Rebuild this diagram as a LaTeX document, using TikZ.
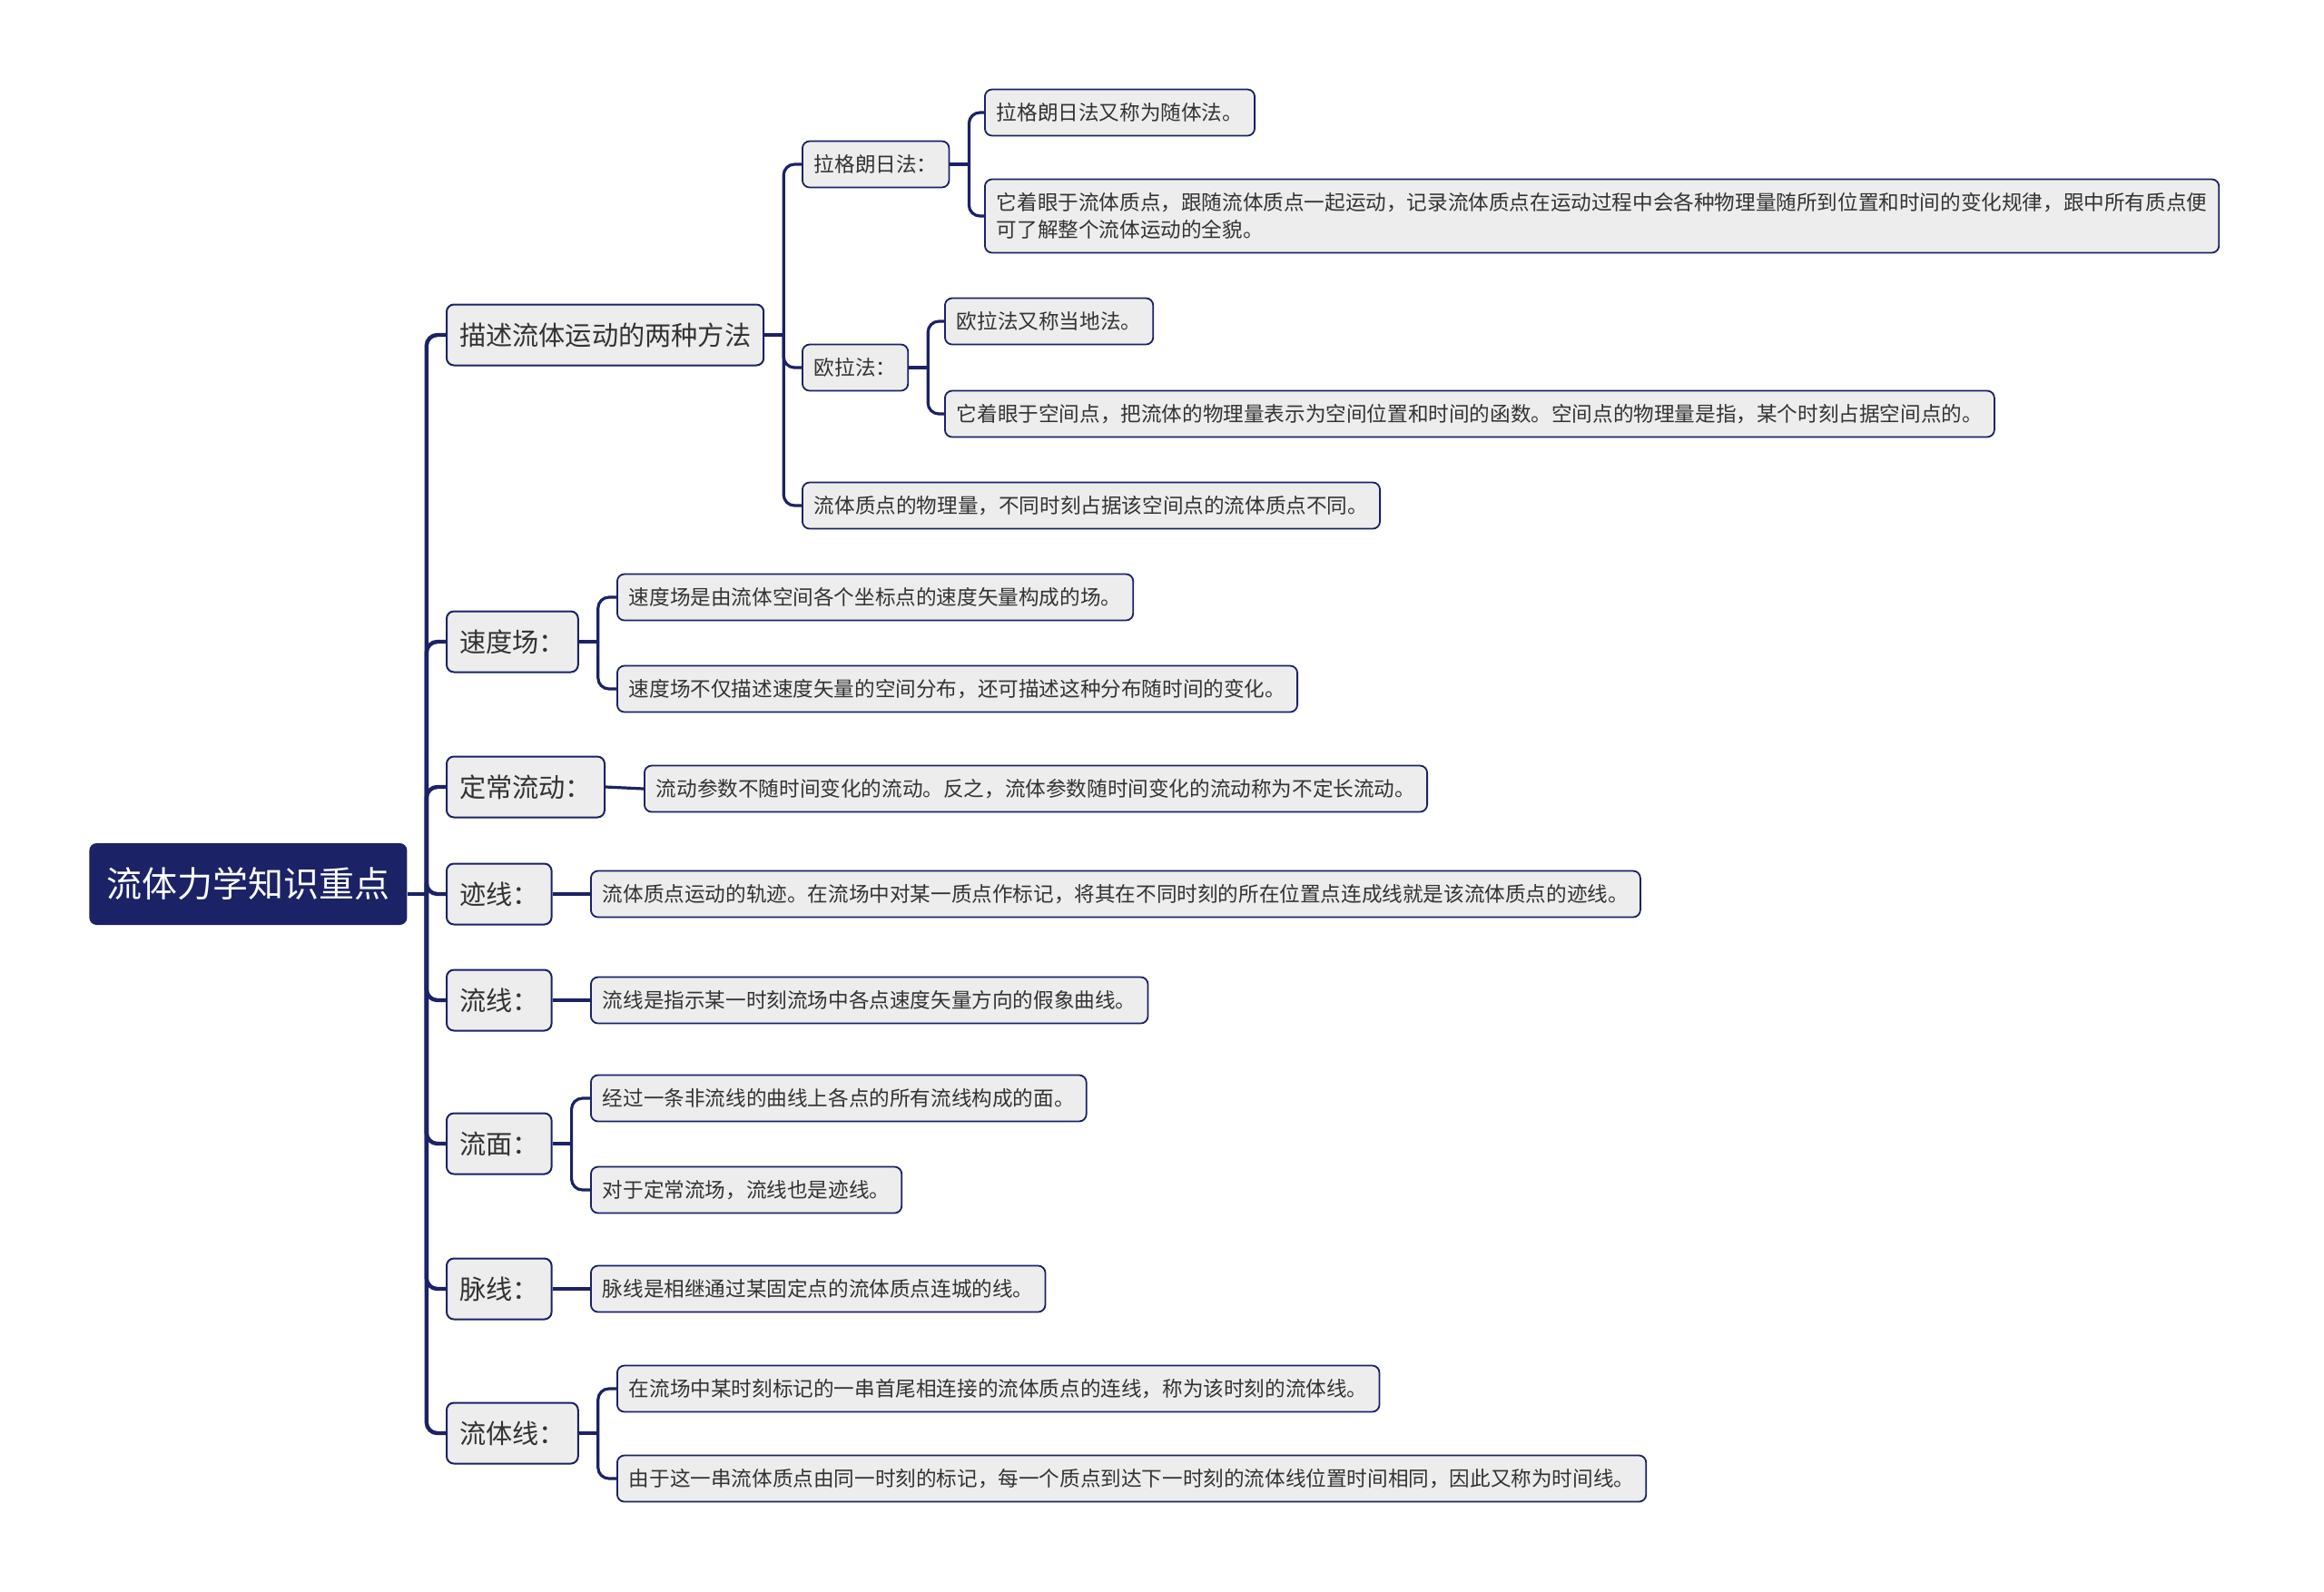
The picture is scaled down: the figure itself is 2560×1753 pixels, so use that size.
\documentclass[tikz,border=0pt]{standalone}
\usepackage{fontspec}
\setmainfont{Noto Sans CJK SC}
\usepackage{tikz}
\definecolor{navy}{HTML}{1B2266}
\definecolor{boxgray}{HTML}{EDEDED}
\definecolor{boxtext}{HTML}{333333}
\tikzstyle{rootbox} = [fill=navy, text=white, rounded corners=4pt, anchor=west,
    minimum height=45pt, inner xsep=9.5pt, font=\fontsize{19.5}{22}\selectfont]
\tikzstyle{topicbox} = [draw=navy, fill=boxgray, text=boxtext, line width=1pt,
    rounded corners=4pt, anchor=west, minimum height=33.5pt, inner xsep=7pt,
    font=\fontsize{14.6}{17}\selectfont]
\tikzstyle{leafbox} = [draw=navy, fill=boxgray, text=boxtext, line width=0.9pt,
    rounded corners=4pt, anchor=west, minimum height=25.5pt, inner xsep=6.5pt,
    align=left, font=\fontsize{11.3}{14.7}\selectfont]
\tikzstyle{trunk} = [draw=navy, line width=2.2pt, rounded corners=6pt]
\tikzstyle{branch} = [draw=navy, line width=1.6pt, rounded corners=6pt]

\begin{document}
\begin{tikzpicture}[x=0.5pt, y=-0.5pt]
    \useasboundingbox (0,0) rectangle (2560,1753);
    \node[rootbox] (root) at (98,974) {流体力学知识重点};

    \node[topicbox] (m1) at (491,369) {描述流体运动的两种方法};
    \node[topicbox] (m2) at (491,707) {速度场：};
    \node[topicbox] (m3) at (491,867) {定常流动：};
    \node[topicbox] (m4) at (491,985) {迹线：};
    \node[topicbox] (m5) at (491,1102) {流线：};
    \node[topicbox] (m6) at (491,1260) {流面：};
    \node[topicbox] (m7) at (491,1420) {脉线：};
    \node[topicbox] (m8) at (491,1579) {流体线：};

    \node[leafbox] (m1a) at (883,181) {拉格朗日法：};
    \node[leafbox] (m1b) at (883,405) {欧拉法：};
    \node[leafbox] (m1c) at (883,557) {流体质点的物理量，不同时刻占据该空间点的流体质点不同。};
    \node[leafbox] (m1a1) at (1084,124) {拉格朗日法又称为随体法。};
    \node[leafbox, minimum height=40.5pt] (m1a2) at (1084,238)
        {它着眼于流体质点，跟随流体质点一起运动，记录流体质点在运动过程中会各种物理量随所到位置和时间的变化规律，跟中所有质点便\\可了解整个流体运动的全貌。};
    \node[leafbox] (m1b1) at (1040,354) {欧拉法又称当地法。};
    \node[leafbox] (m1b2) at (1040,456) {它着眼于空间点，把流体的物理量表示为空间位置和时间的函数。空间点的物理量是指，某个时刻占据空间点的。};

    \node[leafbox] (m2a) at (679,658) {速度场是由流体空间各个坐标点的速度矢量构成的场。};
    \node[leafbox] (m2b) at (679,759) {速度场不仅描述速度矢量的空间分布，还可描述这种分布随时间的变化。};
    \node[leafbox] (m3a) at (709,869) {流动参数不随时间变化的流动。反之，流体参数随时间变化的流动称为不定长流动。};
    \node[leafbox] (m4a) at (650,985) {流体质点运动的轨迹。在流场中对某一质点作标记，将其在不同时刻的所在位置点连成线就是该流体质点的迹线。};
    \node[leafbox] (m5a) at (650,1102) {流线是指示某一时刻流场中各点速度矢量方向的假象曲线。};
    \node[leafbox] (m6a) at (650,1210) {经过一条非流线的曲线上各点的所有流线构成的面。};
    \node[leafbox] (m6b) at (650,1311) {对于定常流场，流线也是迹线。};
    \node[leafbox] (m7a) at (650,1420) {脉线是相继通过某固定点的流体质点连城的线。};
    \node[leafbox] (m8a) at (679,1530) {在流场中某时刻标记的一串首尾相连接的流体质点的连线，称为该时刻的流体线。};
    \node[leafbox] (m8b) at (679,1629) {由于这一串流体质点由同一时刻的标记，每一个质点到达下一时刻的流体线位置时间相同，因此又称为时间线。};

    % connectors
    \draw[trunk] (root.east |- m4.west) -- ++(21,0) coordinate (r0);
    \foreach \i in {1,...,8} \draw[trunk] (r0) |- (m\i.west);

    \draw[branch] (m1.east) -- ++(21,0) coordinate (r1);
    \foreach \c in {m1a,m1b,m1c} \draw[branch] (r1) |- (\c.west);
    \draw[branch] (m1a.east) -- ++(21,0) coordinate (r1a);
    \foreach \c in {m1a1,m1a2} \draw[branch] (r1a) |- (\c.west);
    \draw[branch] (m1b.east) -- ++(21,0) coordinate (r1b);
    \foreach \c in {m1b1,m1b2} \draw[branch] (r1b) |- (\c.west);

    \draw[branch] (m2.east) -- ++(21,0) coordinate (r2);
    \foreach \c in {m2a,m2b} \draw[branch] (r2) |- (\c.west);
    \draw[branch] (m3.east) -- (m3a.west);
    \draw[branch] (m4.east) -- (m4a.west);
    \draw[branch] (m5.east) -- (m5a.west);
    \draw[branch] (m6.east) -- ++(21,0) coordinate (r6);
    \foreach \c in {m6a,m6b} \draw[branch] (r6) |- (\c.west);
    \draw[branch] (m7.east) -- (m7a.west);
    \draw[branch] (m8.east) -- ++(21,0) coordinate (r8);
    \foreach \c in {m8a,m8b} \draw[branch] (r8) |- (\c.west);
\end{tikzpicture}
\end{document}
